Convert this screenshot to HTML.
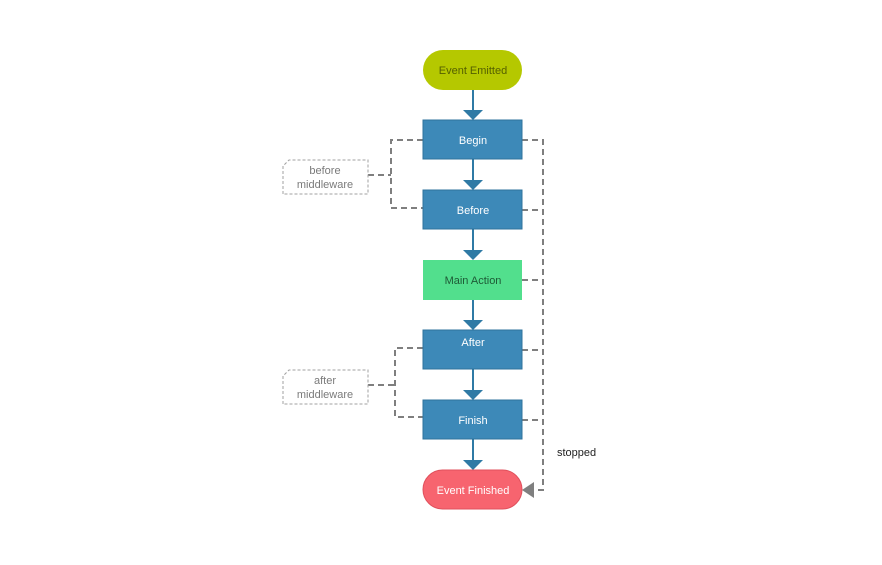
<!DOCTYPE html>
<html><head><meta charset="utf-8"><style>
body{margin:0;background:#fff}
svg text{font-family:"Liberation Sans",sans-serif;font-size:11px}
</style></head><body>
<svg width="882" height="560" viewBox="0 0 882 560" xmlns="http://www.w3.org/2000/svg">
<g stroke="#7f7f7f" stroke-width="2" stroke-dasharray="6,4" fill="none">
<path d="M522 140H543V490H535"/>
<path d="M522 210H543M522 280H543M522 350H543M522 420H543"/>
<path d="M423 140H391V208H423M368 175H391"/>
<path d="M423 348H395V417H423M368 385H395"/>
</g>
<polygon points="534,482 534,498 522,490" fill="#7f7f7f"/>
<g stroke="#a0a0a0" stroke-width="1" stroke-dasharray="3,2" fill="#fff">
<path d="M283 194V166L289 160H368V194Z"/>
<path d="M283 404V376L289 370H368V404Z"/>
</g>
<g fill="#7a7a7a" text-anchor="middle">
<text x="325" y="174">before</text><text x="325" y="188">middleware</text>
<text x="325" y="384">after</text><text x="325" y="398">middleware</text>
</g>
<g stroke="#2f7aa5" stroke-width="2">
<path d="M473 90V111M473 159V181M473 229V251M473 300V321M473 369V391M473 439V461"/>
</g>
<g fill="#2f7aa5">
<polygon points="463,110 483,110 473,120"/><polygon points="463,180 483,180 473,190"/>
<polygon points="463,250 483,250 473,260"/><polygon points="463,320 483,320 473,330"/>
<polygon points="463,390 483,390 473,400"/><polygon points="463,460 483,460 473,470"/>
</g>
<rect x="423" y="50" width="99" height="40" rx="20" fill="#b5c800"/>
<rect x="423" y="120" width="99" height="39" fill="#3d89b8" stroke="#2f739c"/>
<rect x="423" y="190" width="99" height="39" fill="#3d89b8" stroke="#2f739c"/>
<rect x="423" y="260" width="99" height="40" fill="#52df8d"/>
<rect x="423" y="330" width="99" height="39" fill="#3d89b8" stroke="#2f739c"/>
<rect x="423" y="400" width="99" height="39" fill="#3d89b8" stroke="#2f739c"/>
<rect x="423" y="470" width="99" height="39" rx="19.5" fill="#f7646f" stroke="#e0505c"/>
<g text-anchor="middle">
<text x="473" y="74" fill="#556000">Event Emitted</text>
<text x="473" y="144" fill="#fff">Begin</text>
<text x="473" y="214" fill="#fff">Before</text>
<text x="473" y="284" fill="#1e5a36">Main Action</text>
<text x="473" y="346" fill="#fff">After</text>
<text x="473" y="424" fill="#fff">Finish</text>
<text x="473" y="494" fill="#fff">Event Finished</text>
</g>
<text x="557" y="456" fill="#222">stopped</text>
</svg>
</body></html>
